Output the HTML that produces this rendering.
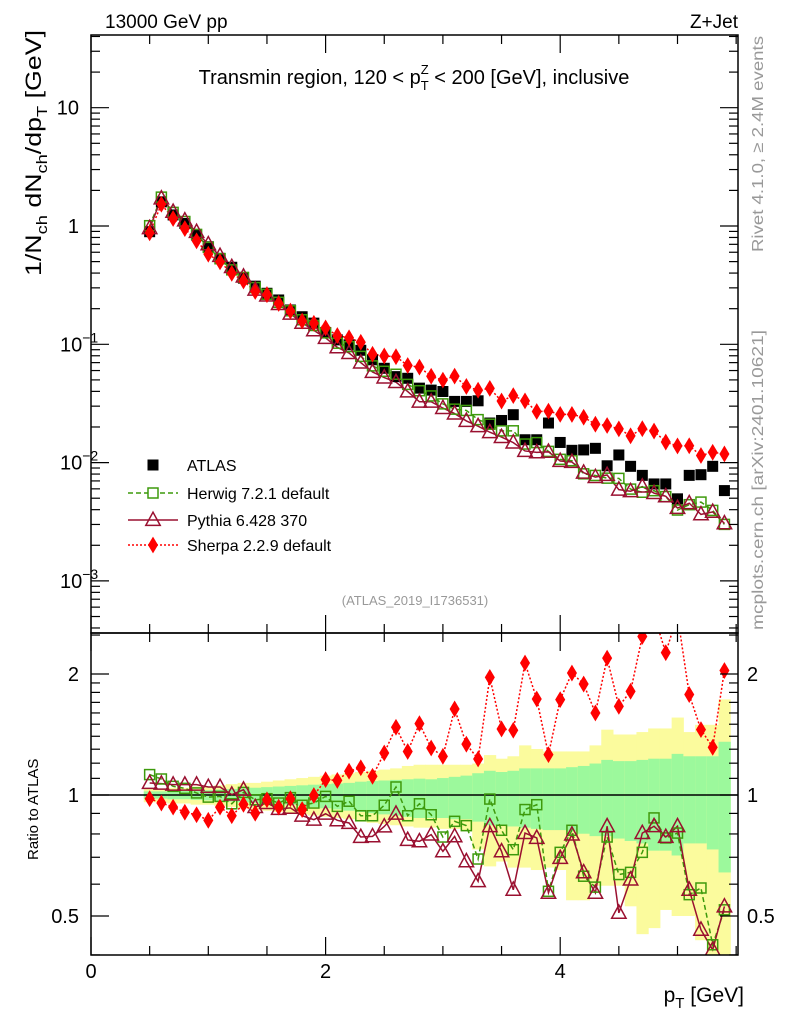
<!DOCTYPE html>
<html><head><meta charset="utf-8"><style>
body{margin:0;background:#fff;}
svg{display:block;font-family:"Liberation Sans",sans-serif;}
</style></head><body>
<svg id="c" width="786" height="1024" viewBox="0 0 786 1024" xmlns="http://www.w3.org/2000/svg">
<rect x="0" y="0" width="786" height="1024" fill="#fff"/>
<g id="bands"></g>
<g id="marks"></g>
<g id="axes"></g>
<text x="105" y="28" font-size="19">13000 GeV pp</text>
<text x="738" y="28" font-size="19" text-anchor="end">Z+Jet</text>
<text x="414" y="84" font-size="20" text-anchor="middle">Transmin region, 120 &lt; p<tspan font-size="13" dy="6">T</tspan><tspan font-size="13" dx="-8" dy="-16">Z</tspan><tspan dy="10"> &lt; 200 [GeV], inclusive</tspan></text>
<text x="415" y="605" font-size="13" fill="#999" text-anchor="middle">(ATLAS_2019_I1736531)</text>
<text transform="translate(763,252) rotate(-90)" font-size="16" fill="#999" textLength="216" lengthAdjust="spacingAndGlyphs">Rivet 4.1.0, ≥ 2.4M events</text>
<text transform="translate(763,630) rotate(-90)" font-size="16" fill="#999" textLength="300" lengthAdjust="spacingAndGlyphs">mcplots.cern.ch [arXiv:2401.10621]</text>
<text transform="translate(41,276) rotate(-90)" font-size="22" textLength="246" lengthAdjust="spacingAndGlyphs">1/N<tspan font-size="15" dy="6">ch</tspan><tspan dy="-6"> dN</tspan><tspan font-size="15" dy="6">ch</tspan><tspan dy="-6">/dp</tspan><tspan font-size="15" dy="6">T</tspan><tspan dy="-6"> [GeV]</tspan></text>
<text transform="translate(38,860) rotate(-90)" font-size="15">Ratio to ATLAS</text>
<text x="744" y="1002" font-size="21" text-anchor="end">p<tspan font-size="15" dy="6">T</tspan><tspan dy="-6"> [GeV]</tspan></text>
<g id="legend"></g>
</svg>
<script>
const xs=[0.5,0.6,0.7,0.8,0.9,1.0,1.1,1.2,1.3,1.4,1.5,1.6,1.7,1.8,1.9,2.0,2.1,2.2,2.3,2.4,2.5,2.6,2.7,2.8,2.9,3.0,3.1,3.2,3.3,3.4,3.5,3.6,3.7,3.8,3.9,4.0,4.1,4.2,4.3,4.4,4.5,4.6,4.7,4.8,4.9,5.0,5.1,5.2,5.3,5.4];
const atlas=[0.895,1.6,1.24,1.05,0.839,0.668,0.533,0.448,0.362,0.31,0.27,0.237,0.195,0.171,0.151,0.126,0.109,0.099,0.089,0.074,0.0627,0.0533,0.0516,0.0426,0.041,0.0399,0.0329,0.0329,0.0333,0.0216,0.0227,0.0254,0.0156,0.0156,0.0216,0.0148,0.0127,0.0128,0.0132,0.0094,0.0116,0.0093,0.0078,0.0066,0.0066,0.00494,0.0078,0.0079,0.0093,0.0058];
const herwigRatio=[1.124,1.096,1.051,1.039,1.012,0.988,0.992,0.951,1.015,0.973,0.979,0.955,0.985,0.943,0.955,0.992,0.937,0.965,0.888,0.888,0.943,1.047,0.888,0.951,0.893,0.786,0.860,0.839,0.693,0.977,0.817,0.731,0.920,0.946,0.576,0.720,0.817,0.628,0.590,0.786,0.634,0.642,0.720,0.877,0.782,0.804,0.565,0.587,0.424,0.518];
const pythiaRatio=[1.071,1.067,1.061,1.061,1.061,1.047,1.047,1.002,1.031,0.933,0.955,0.923,0.929,0.888,0.868,0.898,0.865,0.852,0.786,0.789,0.835,0.898,0.773,0.767,0.797,0.724,0.789,0.684,0.610,0.836,0.724,0.581,0.804,0.782,0.571,0.697,0.797,0.642,0.571,0.836,0.509,0.616,0.804,0.836,0.786,0.836,0.581,0.462,0.412,0.528];
const sherpaRatio=[0.979,0.955,0.933,0.906,0.893,0.865,0.933,0.888,0.948,0.901,0.973,0.933,0.979,0.920,0.997,1.092,1.087,1.146,1.169,1.113,1.272,1.474,1.283,1.505,1.309,1.248,1.637,1.338,1.229,1.962,1.46,1.449,2.13,1.733,1.26,1.727,2.011,1.888,1.60,2.19,1.662,1.811,2.48,2.8,2.26,2.8,1.778,1.454,1.314,2.04];
// band half-widths in log2 units
const yellowUp=[0.05,0.05,0.06,0.06,0.07,0.07,0.08,0.09,0.1,0.1,0.11,0.12,0.13,0.14,0.15,0.16,0.17,0.18,0.19,0.2,0.21,0.22,0.24,0.25,0.25,0.25,0.25,0.25,0.26,0.33,0.30,0.32,0.41,0.38,0.36,0.36,0.36,0.36,0.41,0.54,0.5,0.5,0.52,0.55,0.55,0.64,0.52,0.58,0.58,0.79];
const yellowDn=[0.06,0.06,0.07,0.07,0.08,0.08,0.09,0.1,0.11,0.12,0.13,0.14,0.15,0.16,0.17,0.18,0.19,0.2,0.22,0.23,0.24,0.25,0.26,0.27,0.27,0.28,0.28,0.3,0.45,0.59,0.55,0.6,0.6,0.62,0.6,0.62,0.87,0.87,0.75,0.75,0.75,0.92,1.15,1.1,0.95,1.0,1.0,1.2,1.4,1.4];
const greenUp=[0.03,0.03,0.035,0.035,0.04,0.04,0.045,0.05,0.055,0.06,0.065,0.07,0.075,0.08,0.085,0.09,0.095,0.1,0.11,0.115,0.12,0.125,0.13,0.135,0.13,0.14,0.15,0.16,0.18,0.2,0.19,0.2,0.22,0.22,0.22,0.22,0.23,0.24,0.26,0.29,0.28,0.28,0.29,0.3,0.3,0.34,0.32,0.32,0.32,0.44];
const greenDn=[0.03,0.03,0.035,0.035,0.04,0.045,0.05,0.055,0.06,0.065,0.07,0.075,0.08,0.09,0.1,0.11,0.12,0.13,0.14,0.15,0.16,0.17,0.18,0.19,0.19,0.19,0.2,0.2,0.22,0.25,0.25,0.26,0.27,0.28,0.29,0.29,0.3,0.32,0.34,0.34,0.36,0.38,0.4,0.46,0.46,0.5,0.4,0.4,0.45,0.64];

const NS='http://www.w3.org/2000/svg';
const L=91,R=738,T=35,B=633,RT=633,RB=955;
const X=v=>L+(v)*117.3;
const Y=v=>226-118.3*Math.log10(v);
const RY=r=>795-121*Math.log2(r);
function mk(tag,attrs,parent){const e=document.createElementNS(NS,tag);for(const k in attrs)e.setAttribute(k,attrs[k]);parent.appendChild(e);return e;}
const bands=document.getElementById('bands'),marks=document.getElementById('marks'),axes=document.getElementById('axes'),legend=document.getElementById('legend');
const clip=mk('clipPath',{id:'rc'},document.getElementById('c'));mk('rect',{x:L,y:RT,width:R-L,height:RB-RT},clip);
const clip2=mk('clipPath',{id:'mc'},document.getElementById('c'));mk('rect',{x:L,y:T,width:R-L,height:B-T},clip2);
bands.setAttribute('clip-path','url(#rc)');
xs.forEach((x,i)=>{
  const x0=X(x-0.05),x1=X(x+0.05);
  let e=mk('rect',{x:x0,y:RY(Math.pow(2,yellowUp[i])),width:x1-x0+0.5,height:RY(Math.pow(2,-yellowDn[i]))-RY(Math.pow(2,yellowUp[i])),fill:'#fbfb9d'},bands);
  
  
  e=mk('rect',{x:x0,y:RY(Math.pow(2,greenUp[i])),width:x1-x0+0.5,height:RY(Math.pow(2,-greenDn[i]))-RY(Math.pow(2,greenUp[i])),fill:'#9cf99c'},bands);
  
  
});
let ln=mk('line',{x1:L,x2:R,y1:RY(1),y2:RY(1),stroke:'#000','stroke-width':1.5},bands);



const mainG=mk('g',{'clip-path':'url(#mc)'},marks);
const ratG=mk('g',{'clip-path':'url(#rc)'},marks);
function square(g,cx,cy,s,fill,stroke,name){const e=mk('rect',{x:cx-s/2,y:cy-s/2,width:s,height:s,fill:fill,stroke:stroke,'stroke-width':1.5},g);return e;}
function tri(g,cx,cy,s,col,name){const e=mk('polygon',{points:`${cx},${cy-s*0.65} ${cx-s*0.6},${cy+s*0.45} ${cx+s*0.6},${cy+s*0.45}`,fill:'none',stroke:col,'stroke-width':1.5},g);return e;}
function diam(g,cx,cy,s,col,name){const e=mk('polygon',{points:`${cx},${cy-s*0.7} ${cx+s*0.42},${cy} ${cx},${cy+s*0.7} ${cx-s*0.42},${cy}`,fill:col},g);return e;}
function line(g,pts,col,dash,name,w){const e=mk('polyline',{points:pts.map(p=>p.join(',')).join(' '),fill:'none',stroke:col,'stroke-width':w||1.5,'stroke-dasharray':dash},g);}
const HC='#3d9a0c',PC='#9a1030',SC='#f00';
const herw=xs.map((x,i)=>atlas[i]*herwigRatio[i]);
const pyth=xs.map((x,i)=>atlas[i]*pythiaRatio[i]);
const sher=xs.map((x,i)=>atlas[i]*sherpaRatio[i]);
line(mainG,xs.map((x,i)=>[X(x),Y(herw[i])]),HC,'5,3','herwig-line');
line(mainG,xs.map((x,i)=>[X(x),Y(pyth[i])]),PC,'none','pythia-line');
line(mainG,xs.map((x,i)=>[X(x),Y(sher[i])]),SC,'2,2','sherpa-line');
xs.forEach((x,i)=>square(mainG,X(x),Y(atlas[i]),11,'#000','none','atlas-point'));
xs.forEach((x,i)=>square(mainG,X(x),Y(herw[i]),10,'none',HC,'herwig-point'));
xs.forEach((x,i)=>tri(mainG,X(x),Y(pyth[i]),12,PC,'pythia-point'));
xs.forEach((x,i)=>diam(mainG,X(x),Y(sher[i]),12,SC,'sherpa-point'));
line(ratG,xs.map((x,i)=>[X(x),RY(herwigRatio[i])]),HC,'5,3','herwig-ratio-line');
line(ratG,xs.map((x,i)=>[X(x),RY(pythiaRatio[i])]),PC,'none','pythia-ratio-line');
line(ratG,xs.map((x,i)=>[X(x),RY(sherpaRatio[i])]),SC,'2,2','sherpa-ratio-line');
xs.forEach((x,i)=>square(ratG,X(x),RY(herwigRatio[i]),10,'none',HC,'herwig-ratio-point'));
xs.forEach((x,i)=>tri(ratG,X(x),RY(pythiaRatio[i]),12,PC,'pythia-ratio-point'));
xs.forEach((x,i)=>diam(ratG,X(x),RY(sherpaRatio[i]),12,SC,'sherpa-ratio-point'));

function fr(y0,y1,name){const e=mk('rect',{x:L,y:y0,width:R-L,height:y1-y0,fill:'none',stroke:'#000','stroke-width':1.5},axes);}
fr(T,B,'main-plot-frame');fr(RT,RB,'ratio-plot-frame');
function tk(x1,y1,x2,y2){mk('line',{x1,y1,x2,y2,stroke:'#000','stroke-width':1.2},axes);}
for(let v=0;v<=5.5;v+=0.5){const x=X(v);const big=Math.abs(v%2)<1e-6;const l=big?18:9;
 tk(x,T,x,T+l);tk(x,B,x,B-l);tk(x,RT,x,RT+l);tk(x,RB,x,RB-l);}
[0,2,4].forEach(v=>{const t=mk('text',{x:X(v),y:978,'font-size':20,'text-anchor':'middle'},axes);t.textContent=v;});
for(let d=-4;d<=1;d++){for(let m=1;m<10;m++){const v=m*Math.pow(10,d);const y=Y(v);if(y<T||y>B)continue;const l=m==1?18:9;tk(L,y,L+l,y);tk(R,y,R-l,y);}}
const ylab=[[10,'10'],[1,'1'],[0.1,'10'],[0.01,'10'],[0.001,'10']],yexp=['','','−1','−2','−3'];
ylab.forEach((a,i)=>{const t=mk('text',{x:i<2?79:60,y:Y(a[0])+7,'font-size':20,'text-anchor':i<2?'end':'start'},axes);t.textContent=a[1];
 if(yexp[i]){const s=mk('tspan',{'font-size':14,dy:-9},t);s.textContent=yexp[i];}
 });
[0.4,0.5,0.6,0.7,0.8,0.9,1,1.1,1.2,1.3,1.4,1.5,1.6,1.7,1.8,1.9,2,2.5].forEach(v=>{const y=RY(v);if(y<RT||y>RB)return;const l=(v==1||v==2||v==0.5)?18:9;tk(L,y,L+l,y);tk(R,y,R-l,y);});
[[2,'2'],[1,'1'],[0.5,'0.5']].forEach(a=>{const y=RY(a[0])+7;
 let t=mk('text',{x:79,y,'font-size':20,'text-anchor':'end'},axes);t.textContent=a[1];
 t=mk('text',{x:747,y,'font-size':20},axes);t.textContent=a[1];});
const lg=[['ATLAS',465],['Herwig 7.2.1 default',493],['Pythia 6.428 370',520],['Sherpa 2.2.9 default',545]];
lg.forEach((a,i)=>{const g=mk('g',{},legend);
 const cx=153,cy=a[1];
 if(i==0)square(g,cx,cy,11,'#000','none','legend-marker');
 if(i==1){line(g,[[128,cy],[178,cy]],HC,'5,3','legend-line');square(g,cx,cy,10,'#fff',HC,'legend-marker');}
 if(i==2){line(g,[[128,cy],[178,cy]],PC,'none','legend-line');tri(g,cx,cy,12,PC,'legend-marker');}
 if(i==3){line(g,[[128,cy],[178,cy]],SC,'2,2','legend-line');diam(g,cx,cy,12,SC,'legend-marker');}
 const t=mk('text',{x:187,y:cy+6,'font-size':16},g);t.textContent=a[0];});
</script>
</body></html>
